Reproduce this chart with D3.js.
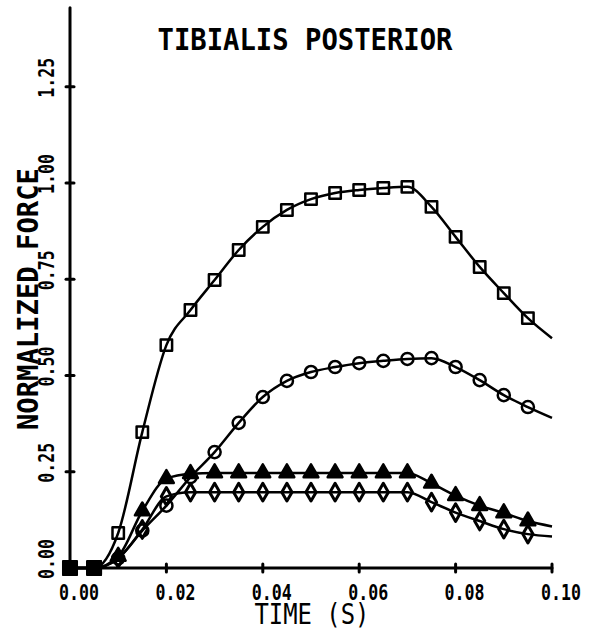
<!DOCTYPE html>
<html>
<head>
<meta charset="utf-8">
<script src="https://cdn.jsdelivr.net/npm/d3@7"></script>
<style>
  html, body { margin: 0; padding: 0; background: #fff; }
  svg { display: block; }
  text { font-family: "DejaVu Sans Mono", "Liberation Mono", monospace; fill: #000; }
</style>
</head>
<body>
<svg id="chart" width="590" height="633"></svg>
<script>
// Sample times (s) and normalized force for the four stimulus conditions
const time = [0, 0.005, 0.01, 0.015, 0.02, 0.025, 0.03, 0.035, 0.04, 0.045, 0.05,
              0.055, 0.06, 0.065, 0.07, 0.075, 0.08, 0.085, 0.09, 0.095, 0.1];
const squareForce = [0, 0, 0.091, 0.353, 0.579, 0.670, 0.748, 0.826, 0.886, 0.930, 0.958,
                     0.974, 0.982, 0.987, 0.990, 0.938, 0.860, 0.782, 0.714, 0.649, 0.597];
const circleForce = [0, 0, 0.025, 0.097, 0.162, 0.236, 0.301, 0.377, 0.444, 0.486, 0.509,
                     0.522, 0.532, 0.538, 0.543, 0.545, 0.522, 0.488, 0.449, 0.418, 0.390];
const triangleForce = [0, 0, 0.030, 0.148, 0.232, 0.245, 0.247, 0.247, 0.247, 0.247, 0.247,
                       0.247, 0.247, 0.247, 0.247, 0.220, 0.188, 0.162, 0.143, 0.122, 0.108];
const diamondForce = [0, 0, 0.025, 0.100, 0.186, 0.197, 0.197, 0.197, 0.197, 0.197, 0.197,
                      0.197, 0.197, 0.197, 0.197, 0.171, 0.144, 0.122, 0.101, 0.088, 0.082];

const xTicks = [0, 0.02, 0.04, 0.06, 0.08, 0.10];
const xTickLabels = ["0.00", "0.02", "0.04", "0.06", "0.08", "0.10"];
const yTicks = [0, 0.25, 0.5, 0.75, 1.0, 1.25];
const yTickLabels = ["0.00", "0.25", "0.50", "0.75", "1.00", "1.25"];
const yAxisTop = 1.455;

const titleText = "TIBIALIS POSTERIOR";
const xTitle = "TIME (S)";
const yTitle = "NORMALIZED FORCE";

const series = [
  { values: squareForce, symbol: "square" },
  { values: circleForce, symbol: "circle" },
  { values: triangleForce, symbol: "triangle" },
  { values: diamondForce, symbol: "diamond" }
];

const svg = d3.select("#chart");
const x = d3.scaleLinear().domain([0, 0.1]).range([70, 552]);
const y = d3.scaleLinear().domain([0, 1]).range([568, 183]);

// Axes: plain lines with short cross ticks
const axes = svg.append("g").attr("stroke", "#000").attr("stroke-linecap", "round");
axes.append("line")
  .attr("x1", x(0)).attr("x2", x(0))
  .attr("y1", y(0)).attr("y2", y(yAxisTop))
  .attr("stroke-width", 3);
axes.append("line")
  .attr("x1", x(0)).attr("x2", x(0.1))
  .attr("y1", y(0)).attr("y2", y(0))
  .attr("stroke-width", 3);
axes.selectAll(".ytick").data(yTicks).join("line")
  .attr("x1", x(0) - 4).attr("x2", x(0) + 4)
  .attr("y1", d => y(d)).attr("y2", d => y(d))
  .attr("stroke-width", 3);
axes.selectAll(".xtick").data(xTicks).join("line")
  .attr("x1", d => x(d)).attr("x2", d => x(d))
  .attr("y1", y(0) - 4).attr("y2", y(0) + 4)
  .attr("stroke-width", 3);

// Tick labels
svg.append("g").selectAll("text").data(xTicks).join("text")
  .attr("x", d => x(d) + 9).attr("y", 600)
  .attr("text-anchor", "middle")
  .attr("font-size", 22).attr("font-weight", "bold")
  .attr("textLength", 40).attr("lengthAdjust", "spacingAndGlyphs")
  .text((d, i) => xTickLabels[i]);

svg.append("g").selectAll("text").data(yTicks).join("text")
  .attr("transform", d => `translate(54,${y(d) - 9}) rotate(-90)`)
  .attr("text-anchor", "middle")
  .attr("font-size", 22).attr("font-weight", "bold")
  .attr("textLength", 40).attr("lengthAdjust", "spacingAndGlyphs")
  .text((d, i) => yTickLabels[i]);

// Titles
svg.append("text")
  .attr("x", 305).attr("y", 50)
  .attr("text-anchor", "middle")
  .attr("font-size", 30).attr("font-weight", "bold")
  .attr("textLength", 295).attr("lengthAdjust", "spacingAndGlyphs")
  .text(titleText);

svg.append("text")
  .attr("x", 312).attr("y", 624)
  .attr("text-anchor", "middle")
  .attr("font-size", 29)
  .attr("textLength", 115).attr("lengthAdjust", "spacingAndGlyphs")
  .text(xTitle);

svg.append("text")
  .attr("transform", "translate(38,299) rotate(-90)")
  .attr("text-anchor", "middle")
  .attr("font-size", 28).attr("font-weight", "bold")
  .attr("textLength", 262).attr("lengthAdjust", "spacingAndGlyphs")
  .text(yTitle);

// Curves
const line = d3.line()
  .x((d, i) => x(time[i]))
  .y(d => y(d))
  .curve(d3.curveMonotoneX);

const plot = svg.append("g");
series.forEach(s => {
  plot.append("path")
    .attr("d", line(s.values))
    .attr("fill", "none")
    .attr("stroke", "#000")
    .attr("stroke-width", 2.5)
    .attr("stroke-linejoin", "round");
});

// Markers (every sample except the final one)
const symbolTypes = {
  square: d3.symbolSquare,
  circle: d3.symbolCircle,
  triangle: d3.symbolTriangle,
  diamond: d3.symbolDiamond
};
const symbolSizes = { square: 130, circle: 115, triangle: 95, diamond: 90 };

series.forEach(s => {
  const pts = s.values.slice(0, s.values.length - 1);
  const sym = d3.symbol().type(symbolTypes[s.symbol]).size(symbolSizes[s.symbol]);
  const zeroSym = d3.symbol().type(d3.symbolSquare).size(170);
  plot.append("g").selectAll("path").data(pts).join("path")
    .attr("transform", (d, i) => `translate(${x(time[i])},${y(d)})`)
    .attr("d", d => d === 0 ? zeroSym() : sym())
    .attr("fill", d => (d === 0 || s.symbol === "triangle") ? "#000" : "none")
    .attr("stroke", "#000")
    .attr("stroke-width", s.symbol === "diamond" ? 3 : 2.5)
    .attr("stroke-linejoin", "round");
});
</script>
</body>
</html>
